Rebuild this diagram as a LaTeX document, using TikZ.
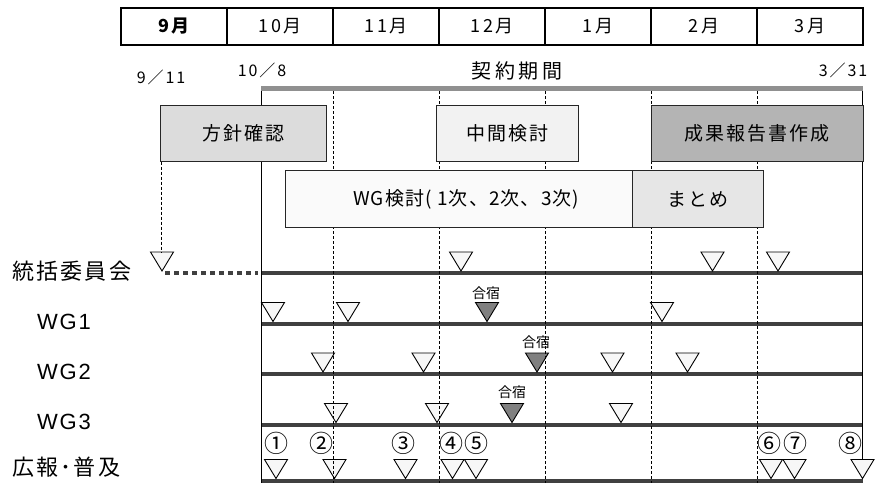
\documentclass[tikz,border=0pt]{standalone}
\usepackage{fontspec}
\setmainfont{Noto Sans CJK JP}
\newfontfamily\latfont{Liberation Sans}
\definecolor{rowgray}{HTML}{404040}
\definecolor{bargray}{HTML}{909090}
\definecolor{triwhite}{HTML}{F7F7F7}
\definecolor{tridark}{HTML}{808080}
\definecolor{boxA}{HTML}{DCDCDC}
\definecolor{boxB}{HTML}{F2F2F2}
\definecolor{boxC}{HTML}{B4B4B4}
\definecolor{boxD}{HTML}{FAFAFA}
\definecolor{boxE}{HTML}{E6E6E6}
\newcommand\fsz[1]{\fontsize{#1}{#1}\selectfont}
\newcommand\lsp[1]{\addfontfeatures{LetterSpace=#1}}
\newcommand\mktri[3]{\draw[tri,fill=#3] (#1-11.5,#2-19) -- (#1+11.5,#2-19) -- (#1,#2) -- cycle;}
\begin{document}
\begin{tikzpicture}[x=1pt,y=-1pt,
  cell/.style={draw=black,line width=1.3pt,minimum width=106pt,minimum height=37pt,inner sep=0pt,font=\fsz{18}\lsp{16}},
  taskbox/.style={draw=black!85,line width=0.8pt,minimum height=56.5pt,inner sep=0pt,font=\fsz{19}\lsp{10}},
  rowline/.style={draw=rowgray,line width=4pt},
  vdash/.style={draw=black,line width=0.8pt,dash pattern=on 3pt off 2pt},
  vsolid/.style={draw=black,line width=1pt},
  tri/.style={draw=black,line width=0.9pt,line join=miter},
  lbl/.style={anchor=west,inner sep=0pt,font=\fsz{22}\lsp{10}},
  wg/.style={anchor=west,inner sep=0pt,font=\latfont\fsz{22}\lsp{8}},
  num/.style={inner sep=0pt,font=\fsz{24}},
  camp/.style={inner sep=0pt,font=\fsz{14}},
  date/.style={inner sep=0pt,font=\fsz{16}\lsp{12}}]
\useasboundingbox (0,0) rectangle (888,483);
% header
\node[cell,font=\fsz{18}\bfseries\lsp{16}] (m9) at (174,26.5) {9月};
\node[cell] (m10) at (280,26.5) {10月};
\node[cell] (m11) at (386,26.5) {11月};
\node[cell] (m12) at (492,26.5) {12月};
\node[cell] (m1) at (598,26.5) {1月};
\node[cell] (m2) at (704,26.5) {2月};
\node[cell] (m3) at (810,26.5) {3月};
% dates
\node[date] (d911) at (161,77) {9／11};
\node[date] (d108) at (262,70) {10／8};
\node[date] (d331) at (843,70) {3／31};
\node[inner sep=0pt,font=\fsz{20}\lsp{18}] (keiyaku) at (517,71) {契約期間};
% row lines
\foreach \yy in {273,323.5,374,424.5,480.5}{\draw[rowline] (261,\yy) -- (862.5,\yy);}
\draw[rowline,dash pattern=on 5pt off 4pt] (165,273) -- (258,273);
% triangles
\mktri{162}{271}{triwhite}
\mktri{461}{271}{triwhite}
\mktri{712.5}{271}{triwhite}
\mktri{778}{271}{triwhite}
\mktri{273}{321.5}{triwhite}
\mktri{348}{321.5}{triwhite}
\mktri{487}{321.5}{tridark}
\mktri{662}{321.5}{triwhite}
\mktri{323}{372}{triwhite}
\mktri{423.5}{372}{triwhite}
\mktri{537}{372}{tridark}
\mktri{612.5}{372}{triwhite}
\mktri{687.5}{372}{triwhite}
\mktri{336}{422.5}{triwhite}
\mktri{437}{422.5}{triwhite}
\mktri{512}{422.5}{tridark}
\mktri{621}{422.5}{triwhite}
\mktri{276}{478.5}{triwhite}
\mktri{334.5}{478.5}{triwhite}
\mktri{405.5}{478.5}{triwhite}
\mktri{452.5}{478.5}{triwhite}
\mktri{476}{478.5}{triwhite}
\mktri{771}{478.5}{triwhite}
\mktri{794.5}{478.5}{triwhite}
\mktri{862.5}{478.5}{triwhite}
% camp labels
\node[camp] (c1) at (486,293) {合宿};
\node[camp] (c2) at (536,342) {合宿};
\node[camp] (c3) at (512,392) {合宿};
% vertical lines
\foreach \xx in {333,439,545,651,757}{\draw[vdash] (\xx,91) -- (\xx,483);}
\draw[vsolid] (261.5,86) -- (261.5,483);
\draw[vsolid] (862.5,86) -- (862.5,460);
\draw[vdash] (161,161.5) -- (161,252);
% contract bar
\draw[draw=bargray,line width=5pt] (261,88) -- (863,88);
% task boxes
\node[taskbox,fill=boxA,minimum width=165.5pt] (hoshin) at (243.25,133.25) {方針確認};
\node[taskbox,fill=boxB,minimum width=141.3pt] (chukan) at (507.3,133.25) {中間検討};
\node[taskbox,fill=boxC,minimum width=212pt] (seika) at (757,133.25) {成果報告書作成};
\node[taskbox,fill=boxD,minimum width=347.3pt,font=\fsz{19}\lsp{6}] (wgk) at (459.3,199) {\hspace*{14pt}WG検討( 1次、2次、3次)};
\node[taskbox,fill=boxE,minimum width=130.6pt] (matome) at (698,199) {まとめ};
% row labels
\node[lbl] (l0) at (12,271) {統括委員会};
\node[wg] (l1) at (37,322) {WG1};
\node[wg] (l2) at (37,372) {WG2};
\node[wg] (l3) at (37,422) {WG3};
\node[lbl] (l4) at (12,467) {広報･普及};
% circled numbers
\node[num] (n1) at (276,443) {①};
\node[num] (n2) at (321,443) {②};
\node[num] (n3) at (403.5,443) {③};
\node[num] (n4) at (451.5,443) {④};
\node[num] (n5) at (476,443) {⑤};
\node[num] (n6) at (769.5,443) {⑥};
\node[num] (n7) at (795,443) {⑦};
\node[num] (n8) at (850,443) {⑧};
\end{tikzpicture}
\end{document}
